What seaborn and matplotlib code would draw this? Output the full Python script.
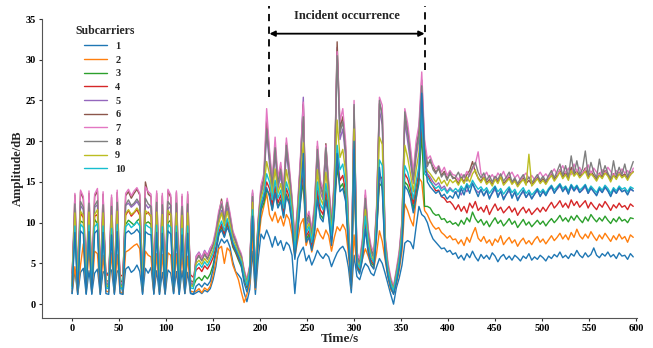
import numpy as np
import pandas as pd
import matplotlib
matplotlib.use("Agg")
import matplotlib.pyplot as plt
import seaborn as sns

# ---------------- data (3-s sampling) ----------------
time_s = list(range(0, 600, 3))  # 200 samples

# segment A: 0-129 s, B: 132-201 s, C: 204-375 s, D: 378-405 s, E: 408-597 s
s1 = ([1.3, 4.2, 1.2, 3.9, 4.4, 1.2, 4.1, 1.3, 3.8, 4.3, 1.2, 4.0, 3.6, 3.9, 4.2, 1.3, 4.1, 3.7, 1.2, 4.3, 4.6, 3.9, 4.2, 4.8, 4.0, 1.2, 4.4, 3.8, 4.5, 1.3, 4.1, 1.2, 3.9, 1.2, 4.2, 3.8, 1.3, 4.0, 1.2, 4.1, 1.3, 3.9, 1.4, 1.2]
      + [1.4, 1.6, 1.3, 1.7, 1.5, 1.9, 3.0, 4.6, 7.2, 8.0, 7.5, 7.9, 7.0, 5.2, 4.0, 3.6, 3.1, 1.4, 0.3, 1.8, 6.5, 1.2, 5.5, 8.6]
      + [8.0, 9.1, 8.2, 7.0, 8.3, 7.2, 7.8, 6.6, 7.6, 7.2, 6.0, 1.3, 5.6, 6.4, 7.0, 5.3, 6.0, 4.8, 5.6, 6.6, 6.0, 5.6, 6.2, 5.8, 4.6, 5.5, 6.3, 6.8, 7.1, 6.4, 4.5, 1.4, 6.0, 3.4, 3.0, 4.2, 5.0, 4.6, 3.8, 3.5, 4.6, 5.6, 5.0, 3.8, 2.5, 1.2, 0.0, 2.0, 3.2, 4.8, 7.5, 7.8, 7.6, 6.8, 9.5, 12.0, 11.0, 10.7]
      + [10.0, 8.8, 8.0, 7.6, 7.2, 6.8, 6.9, 6.4, 6.6, 6.1]
      + [6.3, 5.6, 6.0, 5.4, 6.2, 5.7, 6.5, 5.8, 5.3, 6.1, 5.6, 6.0, 5.5, 6.3, 5.9, 5.2, 5.8, 6.1, 5.5, 5.9, 5.4, 6.0, 5.7, 5.3, 5.9, 5.6, 6.2, 5.4, 5.8, 5.5, 6.0, 5.7, 5.3, 5.9, 5.6, 6.1, 5.8, 6.4, 5.7, 6.0, 5.6, 6.2, 5.9, 6.6, 6.0, 5.7, 6.3, 5.8, 6.1, 6.9, 6.0, 5.7, 6.2, 5.9, 6.4, 5.8, 6.1, 5.6, 6.3, 5.9, 6.0, 5.5, 6.2, 5.8])

s2 = ([1.5, 4.6, 1.4, 4.8, 7.4, 1.6, 6.8, 1.5, 6.5, 6.2, 1.4, 6.0, 1.6, 1.5, 6.3, 1.4, 6.1, 1.5, 1.3, 6.4, 6.6, 6.9, 7.2, 7.4, 6.8, 1.5, 6.5, 6.0, 5.8, 1.4, 6.2, 1.5, 6.1, 1.4, 6.3, 6.0, 1.5, 6.2, 1.6, 6.1, 1.4, 5.9, 1.6, 1.5]
      + [1.6, 1.9, 1.4, 2.0, 1.7, 2.2, 3.5, 5.2, 6.8, 7.1, 5.0, 6.9, 6.5, 4.8, 3.9, 3.0, 1.5, 0.2, 1.2, 2.5, 8.5, 1.8, 7.2, 10.5]
      + [12.0, 13.6, 11.0, 10.2, 11.3, 10.0, 10.8, 9.6, 11.0, 10.4, 8.6, 5.8, 7.8, 9.8, 10.5, 7.2, 8.3, 6.4, 7.9, 9.3, 8.5, 8.0, 9.1, 8.4, 6.5, 8.2, 9.5, 9.0, 9.8, 9.1, 6.2, 2.0, 8.5, 4.5, 4.0, 5.6, 6.8, 5.9, 4.8, 4.4, 6.3, 9.0, 7.7, 5.5, 3.3, 1.8, 1.3, 2.5, 4.1, 6.5, 12.3, 11.5, 10.4, 9.6, 12.8, 15.5, 15.0, 11.5]
      + [11.0, 10.2, 9.6, 9.2, 9.4, 8.8, 8.5, 8.1, 8.4, 7.9]
      + [8.0, 7.4, 7.9, 7.2, 8.2, 7.6, 8.6, 9.4, 8.1, 7.7, 8.3, 7.5, 7.9, 7.2, 8.0, 7.6, 8.4, 7.3, 7.8, 8.2, 7.5, 7.9, 7.1, 7.7, 8.1, 7.4, 7.8, 7.3, 7.9, 8.3, 7.6, 8.0, 7.4, 7.9, 8.4, 7.8, 8.2, 8.7, 8.0, 8.5, 7.9, 8.8, 8.2, 9.2, 8.4, 8.0, 8.6, 8.1, 8.9, 8.3, 7.8, 8.5, 8.0, 8.7, 8.2, 7.7, 8.4, 7.9, 8.6, 8.0, 8.3, 7.6, 8.5, 8.2])

s3 = ([2.2, 9.8, 2.0, 10.2, 10.0, 2.3, 9.7, 2.1, 10.4, 9.9, 2.2, 10.1, 2.4, 2.0, 9.6, 2.2, 10.0, 2.3, 2.1, 9.8, 10.3, 10.0, 9.7, 10.2, 10.5, 2.2, 9.9, 10.1, 9.8, 2.0, 10.2, 2.3, 9.9, 2.1, 10.0, 10.3, 2.2, 9.8, 2.4, 10.1, 2.0, 9.7, 2.3, 2.2]
      + [3.0, 3.3, 2.9, 3.5, 3.1, 3.7, 4.8, 6.5, 8.4, 9.5, 8.3, 9.9, 8.5, 7.0, 6.3, 5.4, 4.6, 3.0, 2.0, 3.5, 10.5, 2.8, 8.2, 11.5]
      + [12.4, 14.0, 13.5, 11.6, 13.8, 11.9, 12.8, 10.8, 13.5, 12.5, 10.0, 6.0, 9.1, 12.7, 15.0, 7.9, 8.6, 6.9, 9.1, 13.2, 11.0, 10.5, 13.1, 11.0, 7.6, 11.4, 16.8, 14.3, 14.8, 13.0, 7.5, 2.3, 15.8, 4.7, 4.0, 6.0, 9.6, 6.7, 5.1, 4.7, 8.8, 14.8, 14.4, 6.3, 3.7, 2.3, 1.4, 2.9, 4.8, 7.7, 15.0, 14.6, 13.5, 11.7, 13.6, 15.4, 21.0, 12.0]
      + [12.0, 11.8, 11.2, 10.9, 11.0, 10.4, 10.5, 10.0, 10.2, 9.8]
      + [10.0, 9.6, 10.3, 9.8, 10.6, 10.1, 11.3, 10.5, 10.0, 10.4, 9.7, 10.2, 9.5, 10.1, 10.6, 9.9, 10.3, 9.6, 10.0, 10.5, 9.8, 10.2, 9.4, 9.9, 10.4, 9.7, 10.1, 9.5, 9.9, 10.3, 9.8, 10.2, 9.6, 10.1, 10.5, 10.0, 10.4, 10.9, 10.2, 10.6, 10.1, 10.8, 10.3, 10.9, 10.4, 10.0, 10.7, 10.2, 11.0, 10.5, 10.1, 10.6, 10.2, 10.8, 10.3, 9.9, 10.5, 10.1, 10.7, 10.2, 10.4, 10.0, 10.6, 10.5])

s4 = ([3.8, 10.9, 3.5, 11.2, 10.6, 3.9, 11.4, 3.6, 10.8, 11.0, 3.4, 11.3, 3.7, 3.5, 10.7, 3.8, 11.1, 3.4, 3.6, 10.9, 11.5, 10.8, 11.2, 11.6, 10.9, 3.5, 11.0, 11.3, 10.7, 3.6, 11.1, 3.4, 10.8, 3.7, 11.2, 10.9, 3.5, 11.0, 3.8, 10.7, 3.4, 11.1, 3.6, 3.3]
      + [4.2, 4.5, 4.0, 4.7, 4.3, 4.9, 5.7, 7.0, 8.8, 9.8, 8.6, 10.2, 8.8, 7.2, 6.5, 5.6, 4.9, 3.3, 2.2, 3.8, 11.0, 3.0, 8.6, 12.0]
      + [13.0, 15.0, 14.2, 12.2, 14.5, 12.4, 13.4, 11.3, 14.2, 13.1, 10.5, 6.3, 9.6, 13.4, 16.0, 8.3, 9.0, 7.2, 9.6, 14.0, 11.6, 11.0, 13.9, 11.6, 8.0, 12.0, 18.0, 15.2, 15.8, 13.8, 7.9, 2.4, 17.0, 4.9, 4.2, 6.3, 10.2, 7.1, 5.4, 4.9, 9.3, 15.8, 15.4, 6.6, 3.9, 2.4, 1.5, 3.1, 5.0, 8.1, 16.0, 15.4, 14.2, 12.3, 14.4, 16.2, 22.5, 16.4]
      + [16.0, 15.2, 14.5, 13.9, 14.0, 13.2, 13.0, 12.5, 12.6, 12.2]
      + [11.6, 12.2, 11.4, 12.0, 11.2, 12.4, 11.8, 12.6, 11.5, 11.9, 11.3, 12.1, 11.0, 11.7, 12.3, 11.5, 11.9, 11.2, 11.6, 12.0, 11.3, 11.8, 10.9, 11.5, 11.9, 11.2, 11.7, 11.0, 11.4, 11.8, 11.3, 11.9, 11.4, 12.0, 12.5, 11.8, 12.2, 12.7, 11.9, 12.4, 11.8, 12.8, 12.1, 12.6, 11.9, 12.3, 12.7, 11.8, 12.5, 12.0, 11.6, 12.3, 11.9, 12.6, 12.1, 11.5, 12.2, 11.8, 12.4, 11.9, 12.1, 11.6, 12.3, 12.0])

s5 = ([2.6, 11.8, 2.4, 12.1, 11.6, 2.7, 12.3, 2.5, 11.9, 12.2, 2.4, 11.7, 2.6, 2.5, 12.0, 2.3, 11.8, 2.6, 2.4, 12.1, 12.4, 11.9, 12.2, 12.6, 12.0, 2.5, 12.3, 11.8, 12.1, 2.6, 11.9, 2.4, 12.2, 2.5, 11.7, 12.0, 2.6, 12.3, 2.4, 11.8, 2.5, 12.1, 2.6, 2.5]
      + [5.9, 6.4, 5.7, 6.6, 6.0, 6.9, 7.4, 8.5, 10.2, 11.5, 9.9, 11.8, 10.3, 8.4, 7.6, 6.6, 5.8, 3.9, 2.6, 4.4, 13.8, 3.4, 9.8, 13.5]
      + [14.8, 21.0, 17.2, 14.0, 18.5, 14.2, 15.8, 13.0, 18.6, 15.6, 12.0, 7.2, 11.2, 17.6, 25.4, 9.5, 10.4, 8.3, 11.2, 18.2, 13.8, 12.8, 18.0, 13.6, 9.3, 14.2, 31.5, 20.2, 21.5, 18.0, 9.2, 2.7, 23.5, 5.6, 4.8, 7.3, 12.4, 8.4, 6.4, 5.6, 11.0, 23.8, 22.0, 7.6, 4.5, 2.8, 1.8, 3.7, 5.7, 9.4, 22.5, 20.0, 17.4, 14.8, 18.0, 20.2, 26.0, 18.4]
      + [16.0, 15.6, 15.0, 14.6, 14.9, 14.2, 14.5, 13.8, 14.3, 13.9]
      + [13.6, 14.0, 13.4, 14.2, 13.8, 14.5, 14.9, 14.1, 13.7, 14.0, 13.3, 13.9, 13.1, 13.6, 14.1, 13.4, 13.8, 13.0, 13.5, 13.9, 13.2, 13.7, 12.9, 13.4, 13.8, 13.1, 13.6, 13.0, 13.5, 13.9, 13.3, 13.8, 13.4, 14.0, 14.3, 13.7, 14.1, 14.5, 13.9, 14.2, 13.6, 14.4, 13.9, 14.3, 13.7, 14.0, 14.4, 13.6, 14.2, 13.8, 13.4, 14.1, 13.7, 14.3, 13.9, 13.3, 14.0, 13.6, 14.2, 13.8, 14.0, 13.5, 14.1, 13.9])

s6 = ([2.9, 13.4, 2.7, 13.8, 12.9, 3.0, 13.6, 2.8, 13.2, 13.9, 2.7, 13.5, 2.9, 2.8, 13.1, 2.6, 13.7, 2.9, 2.7, 13.3, 13.8, 13.0, 13.6, 14.1, 13.4, 2.8, 15.0, 13.5, 13.2, 2.9, 13.6, 2.7, 13.3, 2.8, 13.9, 13.1, 2.9, 13.7, 2.6, 13.2, 2.8, 13.5, 2.9, 2.7]
      + [5.5, 6.0, 5.4, 6.2, 5.6, 6.5, 7.3, 8.9, 11.0, 12.9, 10.5, 12.7, 10.9, 8.8, 7.9, 6.8, 6.0, 4.1, 2.8, 4.6, 13.6, 3.6, 10.2, 14.2]
      + [15.5, 22.5, 18.4, 14.8, 19.6, 15.0, 16.9, 13.8, 19.8, 16.5, 12.8, 7.6, 11.9, 17.5, 24.5, 10.1, 11.0, 8.8, 12.0, 19.4, 14.8, 13.6, 19.7, 14.5, 9.8, 15.0, 32.2, 21.6, 23.0, 19.2, 9.8, 2.9, 24.2, 6.0, 5.1, 7.8, 13.4, 8.9, 6.8, 5.9, 11.7, 24.6, 23.5, 8.1, 4.8, 3.0, 2.0, 4.0, 6.1, 10.0, 23.2, 21.4, 18.6, 15.6, 19.2, 21.3, 27.5, 19.5]
      + [17.2, 17.5, 16.8, 16.2, 16.6, 15.8, 16.3, 15.4, 16.0, 15.6]
      + [15.4, 14.8, 15.6, 15.0, 15.9, 16.4, 17.5, 16.2, 15.5, 15.1, 15.7, 14.9, 15.3, 14.7, 15.5, 15.0, 15.8, 14.8, 15.2, 15.6, 14.9, 15.3, 14.6, 15.1, 15.5, 14.8, 15.2, 14.7, 15.1, 15.6, 15.0, 15.4, 14.9, 15.5, 16.0, 15.3, 15.8, 16.5, 15.6, 16.2, 15.4, 16.8, 15.9, 16.4, 15.7, 16.1, 16.7, 15.6, 16.3, 15.8, 15.3, 16.1, 15.6, 16.4, 15.9, 15.2, 16.0, 15.5, 16.2, 15.7, 16.0, 15.4, 16.1, 16.3])

s7 = ([2.6, 13.6, 2.5, 14.0, 13.2, 2.7, 13.9, 2.6, 13.5, 14.2, 2.5, 13.8, 2.7, 2.6, 13.4, 2.5, 14.0, 2.7, 2.5, 13.6, 14.1, 13.3, 13.9, 14.3, 13.6, 2.6, 14.4, 13.8, 13.5, 2.7, 13.9, 2.5, 13.6, 2.6, 14.1, 13.4, 2.7, 13.9, 2.5, 13.5, 2.6, 13.8, 2.7, 2.5]
      + [5.8, 6.3, 5.6, 6.5, 5.9, 6.8, 7.6, 9.2, 11.4, 12.6, 10.8, 13.0, 11.2, 9.0, 8.1, 7.0, 6.2, 4.3, 3.0, 4.8, 14.0, 3.8, 10.5, 14.6]
      + [16.0, 24.0, 19.0, 15.2, 20.5, 15.5, 17.4, 14.2, 20.4, 17.0, 13.2, 8.0, 12.3, 18.2, 24.8, 10.5, 11.4, 9.2, 12.5, 20.0, 15.3, 14.0, 19.5, 15.0, 10.2, 15.6, 31.0, 22.4, 24.0, 20.0, 10.3, 3.2, 25.0, 6.4, 5.5, 8.2, 14.0, 9.3, 7.2, 6.3, 12.2, 25.4, 24.4, 8.5, 5.2, 3.3, 2.2, 4.3, 6.5, 10.4, 24.0, 22.2, 19.3, 16.2, 20.0, 22.0, 28.5, 20.2]
      + [17.8, 18.2, 17.2, 16.6, 17.0, 16.2, 16.8, 15.8, 16.4, 15.9]
      + [15.8, 15.2, 16.0, 15.5, 16.3, 15.7, 16.6, 17.2, 18.7, 16.0, 15.6, 16.2, 15.4, 15.9, 15.3, 16.1, 15.6, 16.3, 15.4, 15.8, 16.2, 15.5, 15.9, 15.2, 15.7, 16.1, 15.4, 15.8, 15.3, 15.7, 16.2, 15.6, 16.0, 15.5, 16.1, 16.6, 15.9, 16.4, 17.0, 16.1, 16.7, 15.9, 17.2, 16.3, 16.8, 16.0, 16.5, 17.1, 16.0, 16.7, 16.2, 15.8, 16.5, 16.0, 16.8, 16.3, 15.7, 16.4, 15.9, 16.6, 16.1, 16.4, 15.8, 16.7])

s8 = ([2.5, 12.3, 2.3, 12.6, 11.9, 2.6, 12.4, 2.4, 12.1, 12.7, 2.3, 12.2, 2.5, 2.4, 12.0, 2.3, 12.5, 2.5, 2.3, 12.2, 12.8, 12.1, 12.4, 12.9, 12.3, 2.4, 13.0, 12.3, 12.0, 2.5, 12.5, 2.3, 12.2, 2.4, 12.6, 12.1, 2.5, 12.4, 2.3, 12.0, 2.4, 12.3, 2.5, 2.4]
      + [5.4, 5.9, 5.3, 6.1, 5.5, 6.3, 7.1, 8.7, 10.8, 12.3, 10.3, 12.5, 10.6, 8.6, 7.8, 6.7, 5.9, 4.0, 2.7, 4.5, 13.2, 3.5, 10.0, 13.8]
      + [15.2, 21.5, 18.0, 14.5, 19.2, 14.7, 16.5, 13.5, 19.5, 16.2, 12.5, 7.4, 11.6, 17.0, 23.0, 9.9, 10.8, 8.6, 11.7, 19.0, 14.5, 13.3, 19.2, 14.2, 9.6, 14.7, 30.5, 21.0, 22.4, 18.8, 9.6, 2.8, 24.5, 5.8, 5.0, 7.6, 13.0, 8.7, 6.6, 5.8, 11.4, 25.0, 23.0, 7.9, 4.7, 2.9, 1.9, 3.9, 5.9, 9.8, 23.6, 21.0, 18.2, 15.3, 18.8, 20.9, 26.8, 19.0]
      + [16.9, 17.8, 16.5, 16.0, 16.9, 15.6, 16.1, 15.2, 16.2, 15.4]
      + [15.6, 16.2, 15.3, 15.9, 15.1, 16.0, 16.8, 17.4, 16.2, 15.5, 16.1, 15.2, 15.8, 15.0, 15.7, 15.3, 16.0, 15.1, 15.6, 16.2, 15.0, 15.5, 14.8, 15.4, 15.9, 15.1, 15.6, 14.9, 15.4, 15.9, 15.2, 15.7, 15.1, 15.8, 16.4, 15.5, 16.3, 17.2, 15.8, 17.0, 15.6, 18.2, 16.0, 17.6, 15.9, 16.6, 18.8, 15.8, 17.4, 16.2, 15.5, 17.8, 15.9, 17.0, 16.1, 15.4, 17.6, 15.7, 16.8, 15.9, 17.2, 15.6, 16.5, 17.5])

s9 = ([2.3, 11.2, 2.1, 11.4, 10.9, 2.4, 11.3, 2.2, 11.0, 11.6, 2.1, 11.2, 2.3, 2.2, 10.9, 2.1, 11.4, 2.3, 2.1, 11.1, 11.6, 11.0, 11.3, 11.8, 11.2, 2.2, 11.5, 11.1, 10.9, 2.3, 11.3, 2.1, 11.0, 2.2, 11.5, 11.0, 2.3, 11.2, 2.1, 10.9, 2.2, 11.2, 2.3, 2.2]
      + [5.0, 5.4, 4.9, 5.6, 5.1, 5.8, 6.6, 8.0, 9.9, 11.2, 9.6, 11.4, 9.8, 8.0, 7.2, 6.3, 5.5, 3.7, 2.5, 4.2, 12.5, 3.3, 9.5, 13.0]
      + [14.2, 17.5, 16.0, 13.4, 16.6, 13.6, 14.8, 12.4, 16.5, 14.6, 11.5, 6.9, 10.6, 15.4, 19.8, 9.1, 9.9, 7.9, 10.6, 16.5, 13.0, 12.2, 16.2, 12.9, 8.8, 13.4, 22.6, 18.0, 19.0, 16.2, 8.7, 2.6, 21.5, 5.3, 4.6, 6.9, 11.6, 7.9, 6.0, 5.3, 10.4, 20.5, 19.6, 7.2, 4.3, 2.6, 1.7, 3.5, 5.4, 8.9, 19.5, 18.0, 16.0, 13.8, 16.5, 18.6, 24.0, 17.0]
      + [16.4, 16.0, 15.5, 15.0, 15.6, 14.8, 15.2, 14.5, 15.3, 14.9]
      + [15.2, 14.6, 15.4, 14.8, 15.6, 15.0, 16.0, 16.5, 15.4, 14.9, 15.5, 14.7, 15.1, 14.5, 15.3, 14.8, 15.6, 14.6, 15.0, 15.4, 14.7, 15.1, 14.4, 14.9, 15.3, 14.6, 18.4, 14.5, 14.9, 15.4, 14.8, 15.2, 14.7, 15.3, 15.8, 15.1, 15.6, 16.2, 15.4, 15.9, 15.2, 16.4, 15.7, 16.1, 15.5, 15.9, 16.3, 15.4, 16.0, 15.6, 15.1, 15.8, 15.4, 16.1, 15.7, 15.0, 15.8, 15.3, 16.0, 15.5, 15.8, 15.2, 15.9, 16.2])

s10 = ([1.9, 9.6, 1.8, 9.8, 9.4, 2.0, 9.7, 1.9, 9.5, 9.9, 1.8, 9.6, 2.0, 1.9, 9.3, 1.8, 9.8, 2.0, 1.8, 9.5, 9.9, 9.4, 9.7, 10.1, 9.6, 1.9, 9.8, 9.5, 9.3, 2.0, 9.7, 1.8, 9.5, 1.9, 9.8, 9.4, 2.0, 9.6, 1.8, 9.3, 1.9, 9.6, 2.0, 1.9]
       + [4.6, 5.0, 4.5, 5.2, 4.7, 5.4, 6.2, 7.6, 9.3, 10.2, 9.0, 10.5, 9.2, 7.6, 6.9, 6.0, 5.2, 3.5, 2.3, 4.0, 11.6, 3.1, 9.0, 12.4]
       + [13.6, 16.0, 15.0, 12.8, 15.2, 13.0, 14.0, 11.8, 15.0, 13.8, 11.0, 6.6, 10.1, 14.2, 17.5, 8.7, 9.5, 7.6, 10.1, 15.0, 12.3, 11.6, 14.8, 12.2, 8.4, 12.7, 19.5, 16.5, 17.2, 14.8, 8.3, 2.5, 19.0, 5.1, 4.4, 6.6, 10.8, 7.5, 5.7, 5.1, 9.8, 17.7, 17.0, 6.9, 4.1, 2.5, 1.6, 3.3, 5.2, 8.5, 17.0, 16.2, 14.8, 12.9, 15.0, 17.0, 23.5, 16.0]
       + [15.6, 15.0, 14.6, 14.2, 14.5, 13.9, 14.2, 13.6, 14.1, 13.8]
       + [14.2, 13.8, 14.5, 14.0, 14.8, 14.3, 15.2, 14.6, 14.1, 14.4, 13.9, 14.3, 13.6, 14.1, 14.5, 13.8, 14.2, 13.5, 14.0, 14.4, 13.7, 14.1, 13.4, 13.9, 14.3, 13.6, 14.0, 13.4, 13.8, 14.2, 13.7, 14.1, 13.6, 14.2, 14.6, 14.0, 14.4, 14.8, 14.2, 14.5, 13.9, 14.7, 14.2, 14.6, 14.0, 14.3, 14.7, 13.9, 14.5, 14.1, 13.7, 14.4, 14.0, 14.6, 14.2, 13.6, 14.3, 13.9, 14.5, 14.1, 14.3, 13.8, 14.4, 14.2])

# an 11th subcarrier (colour cycle restarts, not listed in the legend)
s11 = ([1.3, 8.8, 1.2, 9.0, 8.6, 1.3, 8.9, 1.2, 8.7, 9.1, 1.2, 8.8, 1.3, 1.2, 8.5, 1.2, 8.9, 1.3, 1.2, 8.7, 9.0, 8.6, 8.8, 9.2, 8.7, 1.3, 8.9, 8.6, 8.5, 1.2, 8.8, 1.2, 8.7, 1.3, 9.0, 8.6, 1.3, 8.8, 1.2, 8.5, 1.3, 8.7, 1.3, 1.2]
       + [2.2, 2.5, 2.1, 2.6, 2.3, 2.8, 4.3, 6.3, 8.6, 9.1, 8.2, 9.4, 8.7, 7.4, 6.6, 5.8, 4.8, 2.6, 1.5, 3.2, 10.8, 2.0, 8.0, 11.8]
       + [13.0, 14.3, 13.2, 11.5, 13.6, 11.8, 12.6, 10.6, 13.2, 12.3, 9.8, 5.5, 8.8, 12.5, 18.5, 7.6, 8.2, 6.6, 8.8, 12.8, 10.6, 10.1, 12.7, 10.6, 7.2, 11.0, 18.5, 13.8, 14.2, 12.6, 7.2, 2.0, 20.0, 4.4, 3.7, 5.6, 9.2, 6.3, 4.8, 4.3, 8.4, 16.8, 13.9, 5.9, 3.4, 2.0, 1.2, 2.6, 4.5, 7.3, 14.5, 14.0, 13.0, 11.2, 13.0, 14.8, 25.9, 18.0]
       + [15.0, 14.4, 14.0, 13.6, 13.9, 13.2, 13.5, 12.9, 13.3, 13.0]
       + [13.8, 13.0, 14.2, 13.4, 14.6, 13.6, 14.8, 14.0, 13.2, 14.1, 13.3, 14.0, 12.9, 13.7, 14.4, 13.1, 13.9, 12.8, 13.5, 14.2, 13.0, 13.8, 12.7, 13.4, 14.0, 13.1, 13.7, 12.9, 13.5, 14.1, 13.2, 13.9, 13.3, 14.0, 14.5, 13.6, 14.2, 14.7, 13.8, 14.4, 13.5, 14.6, 13.9, 14.5, 13.7, 14.1, 14.6, 13.6, 14.3, 13.8, 13.3, 14.2, 13.7, 14.4, 13.9, 13.2, 14.1, 13.6, 14.3, 13.8, 14.0, 13.4, 14.2, 13.9])

series = [s1, s2, s3, s4, s5, s6, s7, s8, s9, s10, s11]
names = [str(k) for k in range(1, 12)]
legend_labels = names[:10]

lens = [len(s) for s in series]
assert all(n == len(time_s) for n in lens), f"lengths {lens} vs {len(time_s)}"

x_ticks = list(range(0, 601, 50))
y_ticks = list(range(0, 36, 5))
event_start, event_end = 210, 375

# ---------------- plotting ----------------
sns.set_theme(style="ticks")
plt.rcParams["font.family"] = ["Liberation Serif", "DejaVu Serif"]
plt.rcParams["font.weight"] = "bold"

df = pd.DataFrame({
    "Time/s": np.tile(time_s, len(series)),
    "Amplitude/dB": np.concatenate(series),
    "Subcarrier": np.repeat(names, len(time_s)),
})

tab = sns.color_palette("tab10", 10)
palette = {n: tab[i % 10] for i, n in enumerate(names)}

fig = plt.figure(figsize=(6.53, 3.48), dpi=100)
ax = fig.add_axes([0.0643, 0.0862, 0.9112, 0.8592])

sns.lineplot(data=df, x="Time/s", y="Amplitude/dB", hue="Subcarrier",
             hue_order=names, palette=palette, linewidth=1.0, ax=ax,
             legend=True)

handles, labels = ax.get_legend_handles_labels()
keep = [(h, l) for h, l in zip(handles, labels) if l in legend_labels]
leg = ax.legend([h for h, _ in keep], [l for _, l in keep], title="Subcarriers",
                loc="upper left", bbox_to_anchor=(0.045, 1.0), frameon=False,
                fontsize=7.5, title_fontsize=8.5, handlelength=2.2,
                labelspacing=0.42, borderaxespad=0.2)
leg.get_title().set_fontweight("bold")
for txt in leg.get_texts():
    txt.set_fontweight("bold")

ax.set_xlim(-32, 601)
ax.set_ylim(-1.7, 35)
ax.set_xticks(x_ticks)
ax.set_yticks(y_ticks)
ax.tick_params(labelsize=7.5, length=2.5, width=0.8, colors="#333333", pad=2)
for lab in ax.get_xticklabels() + ax.get_yticklabels():
    lab.set_fontweight("bold")
    lab.set_color("black")
ax.set_xlabel("Time/s", fontsize=9.5, fontweight="bold", labelpad=0)
ax.set_ylabel("Amplitude/dB", fontsize=9, fontweight="bold", labelpad=1)
sns.despine(ax=ax)
for sp in ("left", "bottom"):
    ax.spines[sp].set_color("#555555")
    ax.spines[sp].set_linewidth(0.8)

# incident annotation
for xv, ybot in ((event_start, 25.4), (event_end, 28.7)):
    ax.plot([xv, xv], [ybot, 36.6], ls=(0, (4, 3)), color="black", lw=1.3,
            clip_on=False)
ax.annotate("", xy=(event_start, 33.2), xytext=(event_end, 33.2),
            arrowprops=dict(arrowstyle="<|-|>", color="black", lw=1.3,
                            mutation_scale=8, shrinkA=0, shrinkB=0),
            annotation_clip=False)
ax.text((event_start + event_end) / 2, 35.4, "Incident occurrence",
        ha="center", va="center", fontsize=9, fontweight="bold")

fig.savefig("out.png", dpi=100)
